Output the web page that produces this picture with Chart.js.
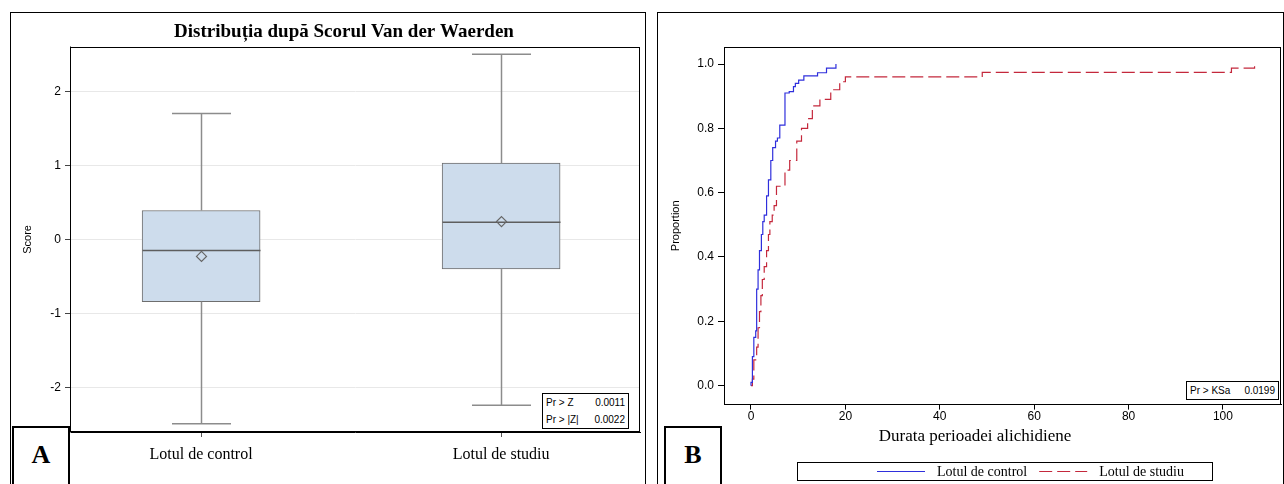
<!DOCTYPE html>
<html>
<head>
<meta charset="utf-8">
<script src="https://cdn.jsdelivr.net/npm/chart.js@4.4.1/dist/chart.umd.min.js"></script>
<style>
body{margin:0;width:1284px;height:484px;position:relative;overflow:hidden;background:#fff;font-family:"Liberation Sans",Arial,sans-serif}
canvas{position:absolute;top:0}
.panel{position:absolute;box-sizing:border-box;border:1px solid #000;border-bottom:none;pointer-events:none}
.tag{position:absolute;box-sizing:border-box;border:2px solid #000;background:#fff;font:bold 26px "Liberation Serif",serif;text-align:center;line-height:54px}
.stat{position:absolute;box-sizing:border-box;border:1px solid #000;background:#fff;font-size:10px;color:#000;padding:0 3px}
.stat div{display:flex;justify-content:space-between;height:17px;line-height:17px}
</style>
</head>
<body>
<canvas id="boxChart" width="650" height="484" style="left:0"></canvas>
<canvas id="cdfChart" width="629" height="484" style="left:655px"></canvas>
<div class="panel" style="left:10px;top:12px;width:636px;height:472px"></div>
<div class="panel" style="left:657px;top:12px;width:627px;height:472px"></div>
<div class="tag" style="left:12px;top:426px;width:58px;height:60px">A</div>
<div class="tag" style="left:664px;top:426px;width:58px;height:60px">B</div>
<div class="stat" style="left:542px;top:393px;width:87px;height:36px">
  <div><span>Pr &gt; Z</span><span>0.0011</span></div>
  <div><span>Pr &gt; |Z|</span><span>0.0022</span></div>
</div>
<div class="stat" style="left:1186px;top:381px;width:93px;height:19px">
  <div><span>Pr &gt; KSa</span><span>0.0199</span></div>
</div>
<script>
// panel A: Van der Waerden scores
const groups = ['Lotul de control', 'Lotul de studiu'];
const q1 = [-0.84, -0.40];
const q3 = [0.39, 1.03];
const medians = [-0.15, 0.23];
const means = [-0.23, 0.24];
const whiskerLow = [-2.49, -2.24];
const whiskerHigh = [1.70, 2.50];
const scoreTicks = [-2, -1, 0, 1, 2];

// panel B: empirical distribution of the duration
const controlX = [0, 0, 0.3, 0.6, 1.0, 1.2, 1.5, 1.8, 2.2, 2.5, 2.8, 3.3, 3.7, 4.2, 4.6, 5.2, 5.6, 6.1, 7.2, 8.1, 9.0, 9.4, 10.1, 11.2, 14.1, 16.0, 18.0];
const controlY = [0, 0.01, 0.09, 0.15, 0.17, 0.30, 0.36, 0.42, 0.47, 0.51, 0.53, 0.59, 0.64, 0.70, 0.74, 0.76, 0.77, 0.81, 0.91, 0.914, 0.93, 0.94, 0.95, 0.963, 0.973, 0.987, 1.0];
const studyX = [0, 0.3, 0.6, 1.2, 1.5, 1.8, 2.1, 2.4, 2.8, 3.3, 3.7, 4.0, 4.5, 4.9, 5.4, 7.2, 8.2, 9.7, 10.7, 12.0, 13.0, 14.6, 16.9, 18.8, 20.0, 49.0, 101.8, 106.7];
const studyY = [0, 0.02, 0.08, 0.12, 0.18, 0.23, 0.28, 0.33, 0.37, 0.42, 0.47, 0.51, 0.53, 0.56, 0.62, 0.67, 0.70, 0.76, 0.80, 0.83, 0.87, 0.89, 0.92, 0.945, 0.96, 0.974, 0.987, 1.0];
const durationTicks = [0, 20, 40, 60, 80, 100];
const proportionTicks = [0, 0.2, 0.4, 0.6, 0.8, 1.0];

const serif = '"Liberation Serif", "Times New Roman", serif';
const sans = '"Liberation Sans", Arial, sans-serif';

const frame = {
    id: 'frame',
    afterDraw(c) {
        const a = c.chartArea, ctx = c.ctx;
        ctx.save();
        ctx.strokeStyle = '#000';
        ctx.lineWidth = 1;
        const l = Math.round(a.left), t = Math.round(a.top), r = Math.round(a.right), b = Math.round(a.bottom);
        ctx.strokeRect(l + 0.5, t + 0.5, r - l - 1, b - t - 1);
        ctx.restore();
    }
};

function seg(ctx, x1, y1, x2, y2) {
    ctx.beginPath();
    ctx.moveTo(x1, y1);
    ctx.lineTo(x2, y2);
    ctx.stroke();
}

// whiskers, median and mean on top of the floating bars
const boxParts = {
    id: 'boxParts',
    afterDatasetsDraw(c) {
        const xs = c.scales.x, ys = c.scales.y, ctx = c.ctx;
        const bars = c.getDatasetMeta(0).data;
        ctx.save();
        groups.forEach((g, i) => {
            const cx = Math.round(xs.getPixelForValue(i)) + 0.5;
            const half = bars[i].width / 2;
            const yHi = ys.getPixelForValue(whiskerHigh[i]);
            const yLo = ys.getPixelForValue(whiskerLow[i]);
            ctx.strokeStyle = '#8c8c8c';
            ctx.lineWidth = 1.5;
            seg(ctx, cx, ys.getPixelForValue(q3[i]), cx, yHi);
            seg(ctx, cx, ys.getPixelForValue(q1[i]), cx, yLo);
            seg(ctx, cx - half / 2, yHi, cx + half / 2, yHi);
            seg(ctx, cx - half / 2, yLo, cx + half / 2, yLo);
            ctx.strokeStyle = '#5e5e5e';
            const ym = ys.getPixelForValue(medians[i]);
            seg(ctx, cx - half, ym, cx + half, ym);
            const yMean = ys.getPixelForValue(means[i]);
            ctx.lineWidth = 1.2;
            ctx.strokeStyle = '#666';
            ctx.beginPath();
            ctx.moveTo(cx, yMean - 5);
            ctx.lineTo(cx + 5, yMean);
            ctx.lineTo(cx, yMean + 5);
            ctx.lineTo(cx - 5, yMean);
            ctx.closePath();
            ctx.stroke();
        });
        ctx.restore();
    }
};

new Chart(document.getElementById('boxChart'), {
    type: 'bar',
    data: {
        datasets: [{
            data: groups.map((g, i) => ({x: i, y: [q1[i], q3[i]]})),
            backgroundColor: '#cddcec',
            borderColor: '#6e6e6e',
            borderWidth: 1,
            borderSkipped: false,
            barThickness: 118
        }]
    },
    options: {
        responsive: false,
        animation: false,
        layout: {padding: {left: 48, right: 10, top: 0, bottom: 0}},
        plugins: {
            legend: {display: false},
            tooltip: {enabled: false},
            title: {
                display: true,
                text: 'Distribuția după Scorul Van der Waerden',
                color: '#000',
                font: {family: serif, size: 19, weight: 'bold'},
                padding: {top: 21, bottom: 3}
            }
        },
        scales: {
            x: {
                type: 'linear',
                min: -0.437,
                max: 1.463,
                offset: false,
                afterBuildTicks: s => { s.ticks = groups.map((g, i) => ({value: i})); },
                ticks: {callback: v => groups[v], color: '#000', font: {family: serif, size: 16}, padding: 8, autoSkip: false, maxRotation: 0},
                grid: {drawOnChartArea: false, offset: false, tickLength: 5, tickColor: '#555'},
                border: {color: '#000'},
                afterFit: s => { s.height = 52; }
            },
            y: {
                min: -2.6,
                max: 2.6,
                afterBuildTicks: s => { s.ticks = scoreTicks.map(v => ({value: v})); },
                ticks: {color: '#000', font: {family: sans, size: 12}, padding: 4},
                grid: {color: '#e8e8e8', tickColor: '#444', tickLength: 5},
                border: {color: '#888'},
                title: {display: true, text: 'Score', color: '#000', font: {family: sans, size: 11}, padding: {top: -26.6, bottom: 0}},
                afterFit: s => { s.width = 22; }
            }
        }
    },
    plugins: [boxParts, frame]
});

// legend drawn from the datasets, inside a bordered box
const legendBox = {
    id: 'legendBox',
    afterDraw(c) {
        const ctx = c.ctx;
        ctx.save();
        ctx.strokeStyle = '#000';
        ctx.lineWidth = 1;
        ctx.strokeRect(142.5, 462.5, 415, 18);
        let x = 222;
        const y = 471.5;
        ctx.font = '14px ' + serif;
        ctx.textBaseline = 'middle';
        ctx.fillStyle = '#000';
        c.data.datasets.forEach(ds => {
            ctx.strokeStyle = ds.borderColor;
            ctx.setLineDash(ds.borderDash || []);
            seg(ctx, x, y, x + 48, y);
            ctx.setLineDash([]);
            ctx.fillText(ds.label, x + 60, y + 1);
            x += 60 + ctx.measureText(ds.label).width + 12;
        });
        ctx.restore();
    }
};

new Chart(document.getElementById('cdfChart'), {
    type: 'line',
    data: {
        datasets: [{
            label: 'Lotul de control',
            data: controlX.map((x, i) => ({x: x, y: controlY[i]})),
            borderColor: '#2f2fdc',
            borderWidth: 1.2,
            stepped: true,
            pointRadius: 0,
            fill: false
        },
        {
            label: 'Lotul de studiu',
            data: studyX.map((x, i) => ({x: x, y: studyY[i]})),
            borderColor: '#c4283c',
            borderWidth: 1.2,
            borderDash: [13, 5],
            stepped: true,
            pointRadius: 0,
            fill: false
        }]
    },
    options: {
        responsive: false,
        animation: false,
        layout: {padding: {left: 14, right: 3, top: 47, bottom: 37}},
        plugins: {
            legend: {display: false},
            tooltip: {enabled: false},
            title: {
                display: true,
                position: 'bottom',
                text: 'Durata perioadei alichidiene',
                color: '#000',
                font: {family: serif, size: 17, weight: 'normal'},
                padding: {top: 2, bottom: 0}
            }
        },
        scales: {
            x: {
                type: 'linear',
                min: -5.72,
                max: 112.3,
                afterBuildTicks: s => { s.ticks = durationTicks.map(v => ({value: v})); },
                ticks: {color: '#000', font: {family: sans, size: 12}, padding: 0, maxRotation: 0},
                grid: {drawOnChartArea: false, tickLength: 5, tickColor: '#000'},
                border: {color: '#000'},
                afterFit: s => { s.height = 20; }
            },
            y: {
                min: -0.059,
                max: 1.053,
                afterBuildTicks: s => { s.ticks = proportionTicks.map(v => ({value: v})); },
                ticks: {color: '#000', font: {family: sans, size: 12}, padding: 4, callback: v => v.toFixed(1)},
                grid: {drawOnChartArea: false, tickLength: 6, tickColor: '#000'},
                border: {color: '#000'},
                title: {display: true, text: 'Proportion', color: '#000', font: {family: sans, size: 11}, padding: 0},
                afterFit: s => { s.width = 55; }
            }
        }
    },
    plugins: [frame, legendBox]
});
</script>
</body>
</html>
